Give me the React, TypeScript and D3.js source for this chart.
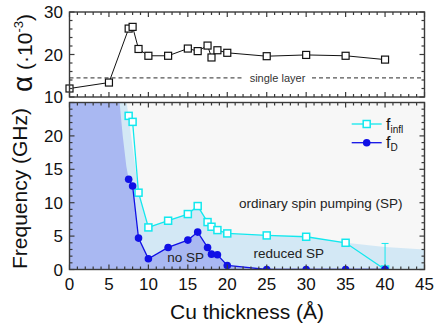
import React from 'react';
import * as d3 from 'd3';

// top panel: damping vs Cu thickness
const alphaThick = [0, 5, 7.5, 8, 8.75, 10, 12.5, 15, 16.25, 17.5, 18, 18.75, 20, 25, 30, 35, 40];
const alphaVals = [12.0, 13.4, 26.1, 26.5, 21.3, 19.7, 19.7, 21.4, 20.8, 22.1, 19.3, 21.0, 20.4, 19.6, 19.9, 19.7, 18.8];
const singleLayer = 14.5;

// bottom panel: frequencies
const thickness = [7.5, 8, 8.75, 10, 12.5, 15, 16.25, 17.5, 18, 18.75, 20, 25, 30, 35, 40];
const fInfl = [23.0, 22.1, 11.5, 6.3, 7.3, 8.3, 9.5, 7.1, 6.4, 5.9, 5.4, 5.1, 4.9, 4.0, 0];
const fD = [13.5, 12.5, 4.7, 1.6, 3.3, 4.4, 5.6, 3.3, 2.3, 2.2, 0.6, 0, 0, 0, 0];
const fInflErr = 3.9; // error bar on last point

// region boundaries (thickness, frequency)
const noSPEdge: [number, number][] = [[6.35, 25], [6.75, 20], [7.2, 15.5], [7.5, 13.5]];
const noSPTail: [number, number][] = [[22.5, 0.2], [25, 0]];
const reducedEdge: [number, number][] = [[7.25, 25], [7.7, 21], [8.15, 17]];
const reducedTail: [number, number][] = [[40, 3.35], [45, 3.0]];

const xTicks = [0, 5, 10, 15, 20, 25, 30, 35, 40, 45];
const alphaTicks = [10, 20, 30];
const freqTicks = [0, 5, 10, 15, 20];

const FONT = '"Liberation Sans", Arial, sans-serif';
const CYAN = '#12e8ee';
const BLUE = '#1010e6';
const FRAME = '#3a3a3a';

const L = 69.5, R = 424.5;
const topY0 = 12, topY1 = 97;
const botY0 = 102.5, botY1 = 269.5;

function Frame({ x, y, xMinor, yMinor, y0, y1 }: any) {
  const items: JSX.Element[] = [];
  const major = 5, minor = 3;
  x.ticks(45).forEach((t: number) => {
    const len = t % xMinor === 0 ? major : minor;
    const px = x(t);
    items.push(<line key={'xb' + t} x1={px} x2={px} y1={y1} y2={y1 - len} />);
    items.push(<line key={'xt' + t} x1={px} x2={px} y1={y0} y2={y0 + len} />);
  });
  const [d0, d1] = y.domain();
  for (let v = d0; v <= d1 + 1e-9; v += yMinor) {
    const len = Math.abs(v % 5) < 1e-9 && (d1 - d0 <= 25 ? true : v % 10 === 0) ? major : minor;
    const py = y(v);
    items.push(<line key={'yl' + v} x1={L} x2={L + len} y1={py} y2={py} />);
    items.push(<line key={'yr' + v} x1={R} x2={R - len} y1={py} y2={py} />);
  }
  return (
    <g stroke={FRAME} strokeWidth={1.2}>
      {items}
      <rect x={L} y={y0} width={R - L} height={y1 - y0} fill="none" strokeWidth={1.4} />
    </g>
  );
}

export default function App() {
  const x = d3.scaleLinear().domain([0, 45]).range([L, R]);
  const ya = d3.scaleLinear().domain([10, 30]).range([topY1, topY0]);
  const yf = d3.scaleLinear().domain([0, 25]).range([botY1, botY0]);

  const lineA = d3.line<number>().x((_, i) => x(alphaThick[i])).y((d) => ya(d));
  const lineF = d3.line<number>().x((_, i) => x(thickness[i])).y((d) => yf(d));
  const poly = d3.line<[number, number]>().x((d) => x(d[0])).y((d) => yf(d[1]));

  const fDPts: [number, number][] = thickness.map((t, i) => [t, fD[i]]);
  const fInflPts: [number, number][] = thickness.map((t, i) => [t, fInfl[i]]);

  const darkPoly: [number, number][] = [
    [0, 25], ...noSPEdge, ...fDPts.filter((p) => p[0] > 7.5 && p[0] <= 20), ...noSPTail, [0, 0],
  ];
  const lightPoly: [number, number][] = [
    [0, 25], ...reducedEdge, ...fInflPts.filter((p) => p[0] > 8 && p[0] <= 35), ...reducedTail, [45, 0], [0, 0],
  ];

  const sq = 7;
  const dashLeftEnd = 243, dashRightStart = 312;

  return (
    <svg width={436} height={326} style={{ position: 'absolute', left: 0, top: 0, background: '#fff' }} fontFamily={FONT}>
      <defs>
        <clipPath id="bot">
          <rect x={L} y={botY0} width={R - L} height={botY1 - botY0} />
        </clipPath>
      </defs>

      {/* top panel */}
      <rect x={L} y={topY0} width={R - L} height={topY1 - topY0} fill="#fff" />
      <g stroke="#555" strokeWidth={1.2} strokeDasharray="4,3">
        <line x1={L} x2={dashLeftEnd} y1={ya(singleLayer)} y2={ya(singleLayer)} />
        <line x1={dashRightStart} x2={R} y1={ya(singleLayer)} y2={ya(singleLayer)} />
      </g>
      <text x={277.5} y={ya(singleLayer) + 4} fontSize={11} fill="#333" textAnchor="middle">single layer</text>
      <path d={lineA(alphaVals) || ''} fill="none" stroke="#111" strokeWidth={1} />
      {alphaVals.map((v, i) => (
        <rect key={i} x={x(alphaThick[i]) - sq / 2} y={ya(v) - sq / 2} width={sq} height={sq}
          fill="#fff" stroke="#111" strokeWidth={1.2} />
      ))}
      <Frame x={x} y={ya} xMinor={5} yMinor={2} y0={topY0} y1={topY1} />
      {alphaTicks.map((t) => (
        <text key={t} x={63} y={ya(t) + 6} fontSize={17} textAnchor="end" fill="#111">{t}</text>
      ))}

      {/* bottom panel */}
      <rect x={L} y={botY0} width={R - L} height={botY1 - botY0} fill="#f7f7f7" />
      <g clipPath="url(#bot)">
        <path d={(poly(lightPoly) || '') + 'Z'} fill="#d3e8f5" />
        <path d={(poly(darkPoly) || '') + 'Z'} fill="#a9b8f2" />
        <line x1={x(40)} x2={x(40)} y1={yf(-fInflErr)} y2={yf(fInflErr)} stroke={CYAN} strokeWidth={1} />
        <line x1={x(40) - 3.5} x2={x(40) + 3.5} y1={yf(fInflErr)} y2={yf(fInflErr)} stroke={CYAN} strokeWidth={1} />
        <path d={lineF(fInfl) || ''} fill="none" stroke={CYAN} strokeWidth={1.3} />
        {fInfl.map((v, i) => (
          <rect key={i} x={x(thickness[i]) - sq / 2} y={yf(v) - sq / 2} width={sq} height={sq}
            fill="#fff" stroke={CYAN} strokeWidth={1.5} />
        ))}
        <path d={lineF(fD) || ''} fill="none" stroke={BLUE} strokeWidth={1.3} />
        {fD.map((v, i) => (
          <circle key={i} cx={x(thickness[i])} cy={yf(v)} r={3.8} fill={BLUE} />
        ))}
      </g>
      <text x={320.8} y={208.3} fontSize={13.5} textAnchor="middle" fill="#222">ordinary spin pumping (SP)</text>
      <text x={288.7} y={258.3} fontSize={13.5} textAnchor="middle" fill="#222">reduced SP</text>
      <text x={185.7} y={261.7} fontSize={13.5} textAnchor="middle" fill="#222">no SP</text>

      {/* legend */}
      <g>
        <line x1={351.7} x2={381.7} y1={124} y2={124} stroke={CYAN} strokeWidth={1.3} />
        <rect x={366.7 - sq / 2} y={124 - sq / 2} width={sq} height={sq} fill="#fff" stroke={CYAN} strokeWidth={1.5} />
        <text x={386} y={129.5} fontSize={16} fill="#111">f<tspan fontSize={10} dy={3}>infl</tspan></text>
        <line x1={351.7} x2={381.7} y1={142.7} y2={142.7} stroke={BLUE} strokeWidth={1.3} />
        <circle cx={366.7} cy={142.7} r={3.8} fill={BLUE} />
        <text x={386} y={148} fontSize={16} fill="#111">f<tspan fontSize={10} dy={3}>D</tspan></text>
      </g>

      <Frame x={x} y={yf} xMinor={5} yMinor={1} y0={botY0} y1={botY1} />
      {freqTicks.map((t) => (
        <text key={t} x={63} y={yf(t) + 6} fontSize={17} textAnchor="end" fill="#111">{t}</text>
      ))}
      {xTicks.map((t) => (
        <text key={t} x={x(t)} y={289.5} fontSize={17} textAnchor="middle" fill="#111">{t}</text>
      ))}

      {/* axis titles */}
      <text x={247} y={319} fontSize={21} textAnchor="middle" fill="#111">Cu thickness (Å)</text>
      <text transform="translate(27,188.5) rotate(-90)" fontSize={21} textAnchor="middle" fill="#111">Frequency (GHz)</text>
      <text transform="translate(32,53) rotate(-90)" fontSize={21} textAnchor="middle" fill="#111">
        <tspan fontSize={28}>α</tspan> (·10<tspan fontSize={13} dy={-9}>-3</tspan><tspan dy={9}>)</tspan>
      </text>
    </svg>
  );
}
